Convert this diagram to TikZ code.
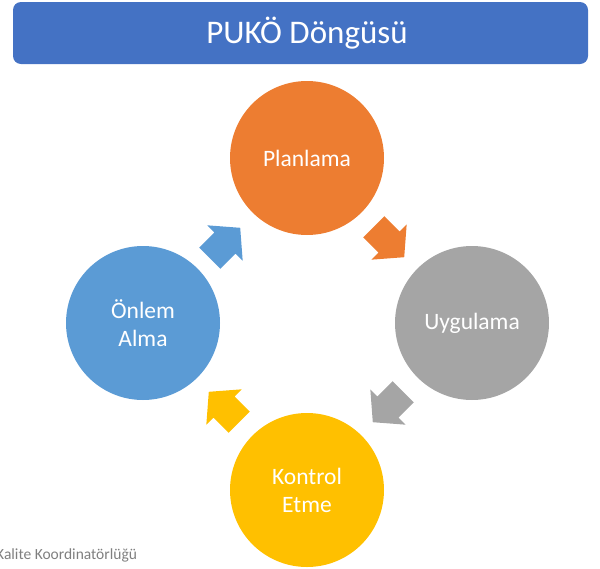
\documentclass[tikz,border=0pt]{standalone}
\usepackage{fontspec}
\setmainfont{Carlito}
\definecolor{titleblue}{HTML}{4472C4}
\definecolor{porange}{HTML}{ED7D31}
\definecolor{pgray}{HTML}{A5A5A5}
\definecolor{pyellow}{HTML}{FFC000}
\definecolor{pblue}{HTML}{5B9BD5}
\definecolor{footgray}{HTML}{7F7F7F}
\tikzset{
  phase/.style={circle, minimum size=154pt, inner sep=0pt, text=white, align=center, font=\fontsize{23.5}{28}\selectfont},
  blockarrow/.pic={\fill[pic actions] (-21.5,15) -- (0,15) -- (0,25) -- (21.5,0) -- (0,-25) -- (0,-15) -- (-21.5,-15) -- cycle;}
}
\begin{document}
\begin{tikzpicture}[x=1pt,y=-1pt]
\useasboundingbox (0,0) rectangle (600,568);
\node[fill=titleblue, rounded corners=8pt, minimum width=575pt, minimum height=62pt, inner sep=0pt] (title) at (300.5,33) {};
\node[text=white, font=\fontsize{33}{38}\selectfont, inner sep=0pt] (titletext) at (307,33) {PUKÖ Döngüsü};
\node[phase, fill=porange] (plan) at (307,158) {Planlama};
\node[phase, fill=pgray] (uyg) at (472,323) {Uygulama};
\node[phase, fill=pyellow] (kont) at (307,490) {Kontrol\\Etme};
\node[phase, fill=pblue] (onlem) at (143,323) {Önlem\\Alma};
\pic[fill=porange, rotate=-45] at (389,242) {blockarrow};
\pic[fill=pgray, rotate=-135] at (388,407) {blockarrow};
\pic[fill=pyellow, rotate=135] at (224,407) {blockarrow};
\pic[fill=pblue, rotate=45] at (225,243) {blockarrow};
\node[anchor=west, text=footgray, font=\fontsize{15.5}{18}\selectfont, inner sep=0pt] (foot) at (-4,555) {Kalite Koordinatörlüğü};
\end{tikzpicture}
\end{document}
